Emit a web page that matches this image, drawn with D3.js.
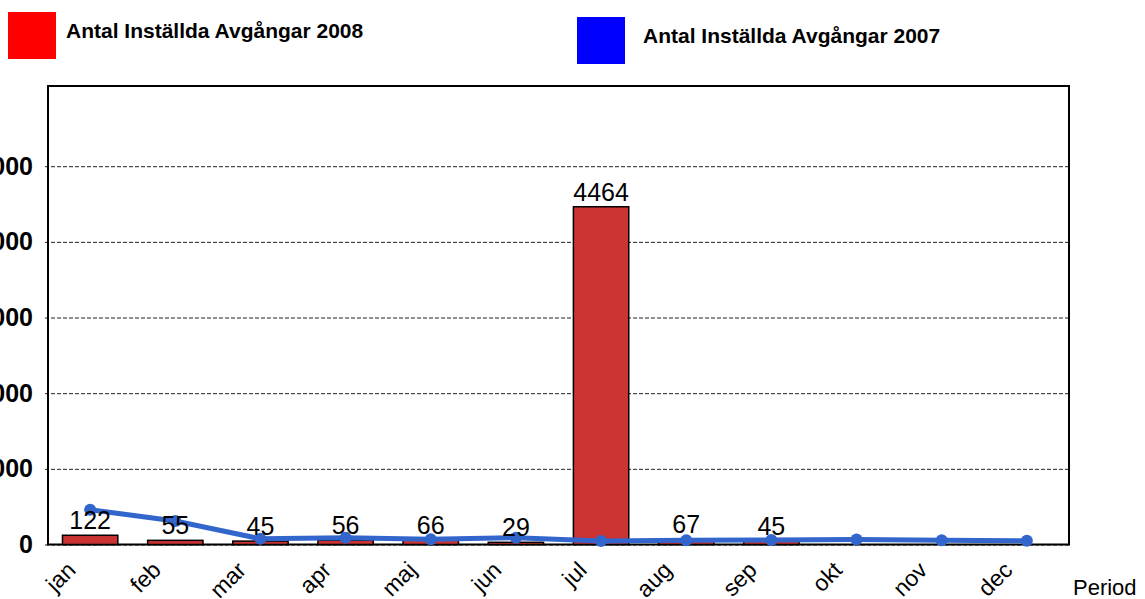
<!DOCTYPE html>
<html>
<head>
<meta charset="utf-8">
<script src="https://cdn.jsdelivr.net/npm/d3@7"></script>
<style>
  body { margin: 0; background: #fff; }
  svg { display: block; font-family: "Liberation Sans", Arial, sans-serif; }
</style>
</head>
<body>
<div id="chart"></div>
<script>
// data
const months = ["jan", "feb", "mar", "apr", "maj", "jun", "jul", "aug", "sep", "okt", "nov", "dec"];
const cancelled2008 = [122, 55, 45, 56, 66, 29, 4464, 67, 45, null, null, null];
const cancelled2007 = [460, 310, 75, 90, 70, 90, 45, 55, 60, 65, 55, 50];
const yTicks = [0, 1000, 2000, 3000, 4000, 5000];
const legendLabels = ["Antal Inställda Avgångar 2008", "Antal Inställda Avgångar 2007"];

const W = 1145, H = 599;
const plotLeft = 48, plotRight = 1069, plotTop = 86, plotBottom = 544.5;

const svg = d3.select("#chart").append("svg")
    .attr("width", W)
    .attr("height", H);

const x = d3.scaleBand()
    .domain(months)
    .range([plotLeft, plotRight])
    .paddingInner(0.35)
    .paddingOuter(0.17);

const y = d3.scaleLinear()
    .domain([0, 6060])
    .range([plotBottom, plotTop]);

// gridlines + y labels (left part cut off like the original)
const yAxis = d3.axisLeft(y)
    .tickValues(yTicks)
    .tickSizeInner(-(plotRight - plotLeft + 3))
    .tickSizeOuter(0)
    .tickPadding(12)
    .tickFormat(d3.format("d"));

const gy = svg.append("g")
    .attr("transform", "translate(" + (plotLeft - 3) + ",0)")
    .call(yAxis);
gy.select(".domain").remove();
gy.selectAll("line")
    .attr("stroke", "#222")
    .attr("stroke-dasharray", "4,2");
gy.selectAll("text")
    .attr("font-size", 25)
    .attr("font-weight", "bold")
    .attr("fill", "#000")
    .attr("font-family", "Liberation Sans, Arial, sans-serif");

// frame
svg.append("rect")
    .attr("x", plotLeft)
    .attr("y", plotTop)
    .attr("width", plotRight - plotLeft)
    .attr("height", plotBottom - plotTop)
    .attr("fill", "none")
    .attr("stroke", "#000")
    .attr("stroke-width", 2);

// bars 2008
const barData = months.map((m, i) => ({ m: m, v: cancelled2008[i] })).filter(d => d.v != null);

svg.selectAll("rect.bar")
    .data(barData)
    .enter()
    .append("rect")
    .attr("class", "bar")
    .attr("x", d => x(d.m))
    .attr("y", d => y(d.v))
    .attr("width", x.bandwidth())
    .attr("height", d => plotBottom - y(d.v))
    .attr("fill", "#CC3333")
    .attr("stroke", "#000")
    .attr("stroke-width", 1.5);

// line 2007
const line = d3.line()
    .x((d, i) => x(months[i]) + x.bandwidth() / 2)
    .y(d => y(d));

svg.append("path")
    .datum(cancelled2007)
    .attr("d", line)
    .attr("fill", "none")
    .attr("stroke", "#3366CC")
    .attr("stroke-width", 5)
    .attr("stroke-linejoin", "round");

svg.selectAll("circle.dot")
    .data(cancelled2007)
    .enter()
    .append("circle")
    .attr("class", "dot")
    .attr("cx", (d, i) => x(months[i]) + x.bandwidth() / 2)
    .attr("cy", d => y(d))
    .attr("r", 6)
    .attr("fill", "#3366CC");

// bar value labels
svg.selectAll("text.val")
    .data(barData)
    .enter()
    .append("text")
    .attr("class", "val")
    .attr("x", d => x(d.m) + x.bandwidth() / 2)
    .attr("y", d => y(d.v) - 6)
    .attr("text-anchor", "middle")
    .attr("font-size", 25)
    .attr("fill", "#000")
    .text(d => d.v);

// x labels
const xAxis = d3.axisBottom(x).tickSize(0).tickPadding(0);
const gx = svg.append("g")
    .attr("transform", "translate(0," + plotBottom + ")")
    .call(xAxis);
gx.select(".domain").remove();
gx.selectAll("text")
    .attr("font-size", 23)
    .attr("font-family", "Liberation Sans, Arial, sans-serif")
    .attr("fill", "#000")
    .attr("text-anchor", "end")
    .attr("dy", 0)
    .attr("y", 0)
    .attr("transform", "translate(-13,27) rotate(-45)");

svg.append("text")
    .attr("x", 1073)
    .attr("y", 595)
    .attr("font-size", 22)
    .attr("fill", "#000")
    .text("Period");

// legend
const legendColors = ["#FF0000", "#0000FF"];
const legendX = [8, 577];
const legendY = [12, 17];
const legend = svg.selectAll("g.legend")
    .data(legendLabels)
    .enter()
    .append("g")
    .attr("class", "legend")
    .attr("transform", (d, i) => "translate(" + legendX[i] + "," + legendY[i] + ")");
legend.append("rect")
    .attr("width", 48)
    .attr("height", 47)
    .attr("fill", (d, i) => legendColors[i]);
legend.append("text")
    .attr("x", (d, i) => i === 0 ? 58 : 66)
    .attr("y", 25.5)
    .attr("font-size", 21)
    .attr("font-weight", "bold")
    .attr("fill", "#000")
    .text(d => d);
</script>
</body>
</html>
